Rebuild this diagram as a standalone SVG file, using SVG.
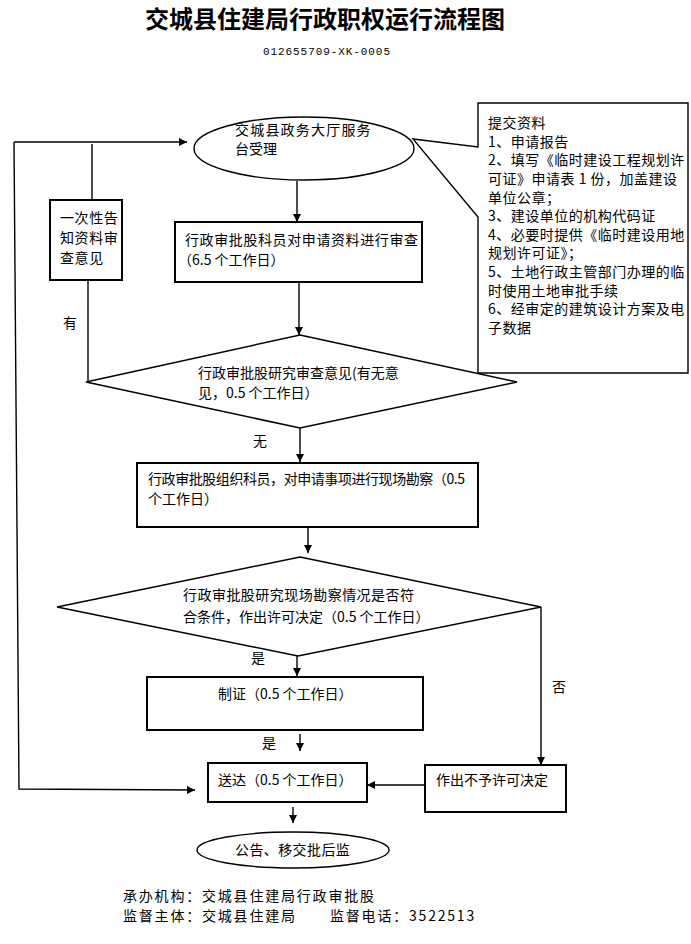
<svg xmlns="http://www.w3.org/2000/svg" width="691" height="944" viewBox="0 0 691 944">
<defs>
<marker id="arr" viewBox="0 0 10 10" refX="10" refY="5" markerWidth="8" markerHeight="8" markerUnits="userSpaceOnUse" orient="auto">
<path d="M0,0 L10,5 L0,10 z" fill="#000"/>
</marker>
</defs>
<style>
text{font-family:"Noto Sans CJK SC","Liberation Sans",sans-serif;font-size:14px;fill:#000}
.box{fill:#fff;stroke:#000;stroke-width:2}
.ell{fill:#fff;stroke:#000;stroke-width:1.4}
.dia{fill:none;stroke:#000;stroke-width:1.5}
.c{fill:none;stroke:#000;stroke-width:1.4}
.ca{fill:none;stroke:#000;stroke-width:1.4;marker-end:url(#arr)}
.t{font-size:24px;font-weight:700}
.sub{font-family:"Liberation Mono",monospace;font-size:11px}
.ft{letter-spacing:1.8px}
.cl{letter-spacing:0.5px}
</style>
<rect width="691" height="944" fill="#fff"/>
<text class="t" x="145" y="28" textLength="360" lengthAdjust="spacingAndGlyphs">交城县住建局行政职权运行流程图</text>
<text class="sub" x="263" y="55" textLength="127" lengthAdjust="spacing">012655709-XK-0005</text>

<g id="connectors">
<line class="ca" x1="297" y1="181" x2="297" y2="222"/>
<line class="ca" x1="299" y1="283" x2="299" y2="335"/>
<line class="c" x1="88" y1="382" x2="88" y2="281"/>
<line class="c" x1="92" y1="200" x2="92" y2="144"/>
<polyline class="ca" points="14,142 187,142"/>
<polyline class="ca" points="14,142 19,789 195,790"/>
<line class="ca" x1="300" y1="428" x2="300" y2="462"/>
<line class="ca" x1="308" y1="527" x2="308" y2="553"/>
<line class="ca" x1="297" y1="656" x2="297" y2="676"/>
<line class="ca" x1="300" y1="734" x2="300" y2="751"/>
<line class="ca" x1="541" y1="607" x2="541" y2="765"/>
<line class="ca" x1="425" y1="785" x2="367" y2="785"/>
<line class="ca" x1="293" y1="807" x2="293" y2="823"/>
</g>

<g id="n_accept">
<ellipse class="ell" cx="304" cy="148.5" rx="110" ry="31.5"/>
<text x="235" y="135" letter-spacing="1.2">交城县政务大厅服务</text>
<text x="235" y="154">台受理</text>
</g>

<g id="n_materials">
<polygon class="c" points="478,103 688,103 688,373 478,373 478,217 413,139 478,147"/>
<text class="cl" x="488" y="128">提交资料</text>
<text class="cl" x="488" y="146.6">1、申请报告</text>
<text class="cl" x="488" y="165.3">2、填写《临时建设工程规划许</text>
<text class="cl" x="488" y="183.9">可证》申请表 1 份，加盖建设</text>
<text class="cl" x="488" y="202.5">单位公章；</text>
<text class="cl" x="488" y="221.1">3、建设单位的机构代码证</text>
<text class="cl" x="488" y="239.8">4、必要时提供《临时建设用地</text>
<text class="cl" x="488" y="258.4">规划许可证》；</text>
<text class="cl" x="488" y="277">5、土地行政主管部门办理的临</text>
<text class="cl" x="488" y="295.6">时使用土地审批手续</text>
<text class="cl" x="488" y="314.3">6、经审定的建筑设计方案及电</text>
<text class="cl" x="488" y="333">子数据</text>
</g>

<g id="n_notice">
<rect class="box" x="50" y="200" width="72" height="80"/>
<text x="60" y="223" letter-spacing="0.6">一次性告</text>
<text x="60" y="243" letter-spacing="0.6">知资料审</text>
<text x="60" y="263" letter-spacing="0.6">查意见</text>
</g>

<g id="n_review">
<rect class="box" x="175" y="222" width="247" height="60"/>
<text x="185" y="245" textLength="233" lengthAdjust="spacing">行政审批股科员对申请资料进行审查</text>
<text x="178" y="265">（6.5 个工作日）</text>
</g>

<g id="n_decide1">
<polygon class="dia" points="300,335 517,382 300,428 86,382"/>
<text x="198" y="378">行政审批股研究审查意见(有无意</text>
<text x="198" y="398">见，0.5 个工作日）</text>
</g>
<text x="63" y="328">有</text>
<text x="253" y="446">无</text>

<g id="n_survey">
<rect class="box" x="137" y="463" width="341" height="64"/>
<text x="148" y="484" textLength="317" lengthAdjust="spacing">行政审批股组织科员，对申请事项进行现场勘察（0.5</text>
<text x="148" y="504">个工作日）</text>
</g>

<g id="n_decide2">
<polygon class="dia" points="300,557 541,607 298,656 57,607"/>
<text x="183" y="600" textLength="231" lengthAdjust="spacing">行政审批股研究现场勘察情况是否符</text>
<text x="183" y="622">合条件，作出许可决定（0.5 个工作日）</text>
</g>
<text x="251" y="663">是</text>
<text x="552" y="692">否</text>

<g id="n_cert">
<rect class="box" x="147" y="677" width="276" height="53"/>
<text x="218" y="699">制证（0.5 个工作日）</text>
</g>
<text x="262" y="748">是</text>

<g id="n_deliver">
<rect class="box" x="208" y="763" width="159" height="39"/>
<text x="218" y="785">送达（0.5 个工作日）</text>
</g>

<g id="n_reject">
<rect class="box" x="425" y="765" width="141" height="47"/>
<text x="436" y="785">作出不予许可决定</text>
</g>

<g id="n_publish">
<ellipse class="ell" cx="293" cy="850" rx="96" ry="18"/>
<text x="235" y="855" letter-spacing="0.4">公告、移交批后监</text>
</g>

<text class="ft" x="123" y="901">承办机构：交城县住建局行政审批股</text>
<text class="ft" x="123" y="921">监督主体：交城县住建局</text>
<text class="ft" x="330" y="921">监督电话：3522513</text>
</svg>
